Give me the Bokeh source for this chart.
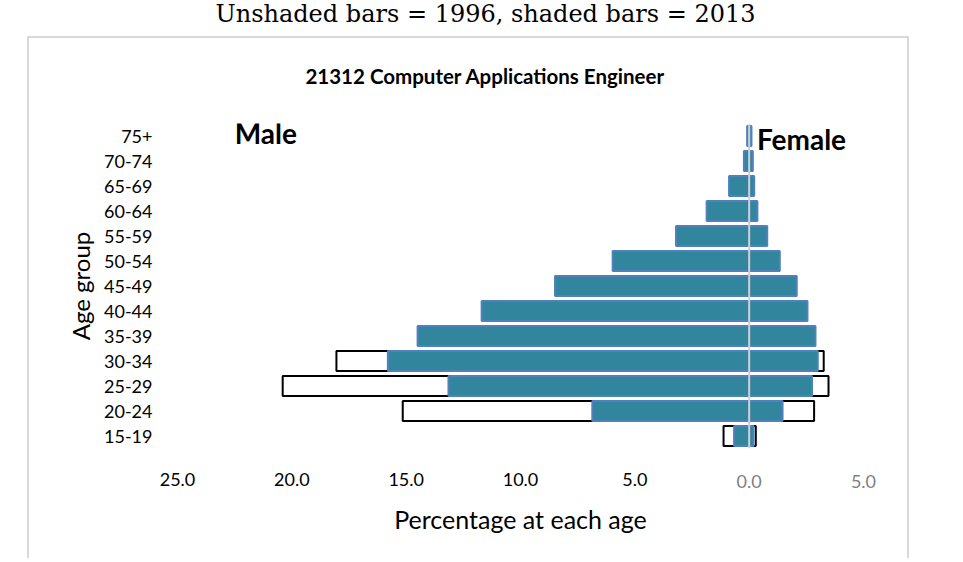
from bokeh.plotting import figure
from bokeh.models import (Range1d, FactorRange, FixedTicker, Span, ColumnDataSource,
                          Column, LinearAxis)
from bokeh.core.properties import value
from bokeh.embed import file_html
from bokeh.resources import INLINE

# ---- data ----
age_groups = ["15-19", "20-24", "25-29", "30-34", "35-39", "40-44", "45-49",
              "50-54", "55-59", "60-64", "65-69", "70-74", "75+"]
male_1996 = [1.12, 15.15, 20.4, 18.05, 12.5, 8.5, 5.35, 2.8, 1.05, 0.3, 0.1, 0.0, 0.0]
female_1996 = [0.29, 2.84, 3.47, 3.26, 2.3, 1.6, 1.0, 0.6, 0.3, 0.1, 0.05, 0.0, 0.0]
male_2013 = [0.66, 6.86, 13.15, 15.8, 14.5, 11.7, 8.49, 5.97, 3.2, 1.86, 0.88, 0.23, 0.09]
female_2013 = [0.19, 1.46, 2.75, 3.0, 2.9, 2.55, 2.08, 1.34, 0.79, 0.36, 0.22, 0.16, 0.1]
male_ticks = [-25, -20, -15, -10, -5]
male_tick_labels = ["25.0", "20.0", "15.0", "10.0", "5.0"]
female_ticks = [0, 5]
female_tick_labels = ["0.0", "5.0"]
subtitle = "Unshaded bars = 1996, shaded bars = 2013"
chart_title = "21312 Computer Applications Engineer"

src = ColumnDataSource(dict(
    age=age_groups,
    m96=[-v for v in male_1996], f96=female_1996,
    m13=[-v for v in male_2013], f13=female_2013,
))


def text_strip(width, height, text, font, size, style, cx, cy):
    f = figure(width=width, height=height, x_range=Range1d(0, width),
               y_range=Range1d(0, height), output_backend="svg",
               toolbar_location=None, x_axis_location=None, y_axis_location=None,
               min_border=0)
    f.xgrid.visible = False
    f.ygrid.visible = False
    f.outline_line_color = None
    f.text(x=[cx], y=[cy], text=[text], text_font=value(font),
           text_font_size=size, text_font_style=style, text_align="center",
           text_baseline="middle", text_color="black")
    return f


# subtitle strip above the chart box
ps = text_strip(963, 36, subtitle, "DejaVu Serif", "24px", "normal", 485, 23)
# chart title strip inside the box
pt = text_strip(878, 74, chart_title, "Lato", "20.5px", "bold", 394, 37)

p = figure(width=878, height=446,
           x_range=Range1d(-25, 5), y_range=FactorRange(*age_groups),
           output_backend="svg", toolbar_location=None,
           min_border_left=148, min_border_right=44,
           min_border_top=11, min_border_bottom=110)
p.y_range.range_padding = 0

# 1996 (unshaded)
p.hbar(y="age", left="m96", right=0, height=0.8, source=src, fill_color="white",
       line_color="black", line_width=2)
p.hbar(y="age", left=0, right="f96", height=0.8, source=src, fill_color="white",
       line_color="black", line_width=2)
# 2013 (shaded)
p.hbar(y="age", left="m13", right=0, height=0.8, source=src, fill_color="#31859C",
       line_color="#4F81BD", line_width=2)
p.hbar(y="age", left=0, right="f13", height=0.8, source=src, fill_color="#31859C",
       line_color="#4F81BD", line_width=2)

p.add_layout(Span(location=0, dimension="height", line_color="#D0D0D0", line_width=2))

p.text(x=[-22.5], y=["75+"], text=["Male"], text_font=value("Lato"),
       text_font_style="bold", text_font_size="28px", text_baseline="middle",
       y_offset=-3, text_color="black")
p.text(x=[0.34], y=["75+"], text=["Female"], text_font=value("Lato"),
       text_font_style="bold", text_font_size="28px", text_baseline="middle",
       y_offset=3, text_color="black")

p.xgrid.visible = False
p.ygrid.visible = False
p.outline_line_color = None


def style_axis(ax):
    ax.axis_line_color = None
    ax.major_tick_line_color = None
    ax.minor_tick_line_color = None
    ax.major_tick_out = 0
    ax.major_tick_in = 0
    ax.minor_tick_out = 0
    ax.major_label_text_font = "Lato"
    ax.major_label_text_font_size = "18px"


# male side tick labels (black), nearest the plot
xa = p.xaxis[0]
style_axis(xa)
xa.ticker = FixedTicker(ticks=male_ticks)
xa.major_label_overrides = dict(zip(male_ticks, male_tick_labels))
xa.major_label_text_color = "black"
xa.major_label_standoff = 24

# female side tick labels (grey) + axis title, pulled up to the same row
xb = LinearAxis(ticker=FixedTicker(ticks=female_ticks))
style_axis(xb)
xb.major_label_overrides = dict(zip(female_ticks, female_tick_labels))
xb.major_label_text_color = "#7F7F7F"
xb.major_label_standoff = -14
xb.axis_label = "Percentage at each age"
xb.axis_label_text_font = "Lato"
xb.axis_label_text_font_size = "25px"
xb.axis_label_text_font_style = "normal"
xb.axis_label_text_color = "black"
xb.axis_label_standoff = 13
p.add_layout(xb, "below")

ya = p.yaxis[0]
style_axis(ya)
ya.major_label_text_color = "black"
ya.major_label_standoff = 25
ya.axis_label = "Age group"
ya.axis_label_text_font = "Lato"
ya.axis_label_text_font_size = "24px"
ya.axis_label_text_font_style = "normal"
ya.axis_label_text_color = "black"
ya.axis_label_standoff = 6

box = Column(children=[pt, p], margin=(0, 0, 0, 27),
             styles={"border": "2px solid #D9D9D9", "border-bottom": "none"})
page = Column(children=[ps, box])

open("out.html", "w").write(file_html(page, INLINE))
